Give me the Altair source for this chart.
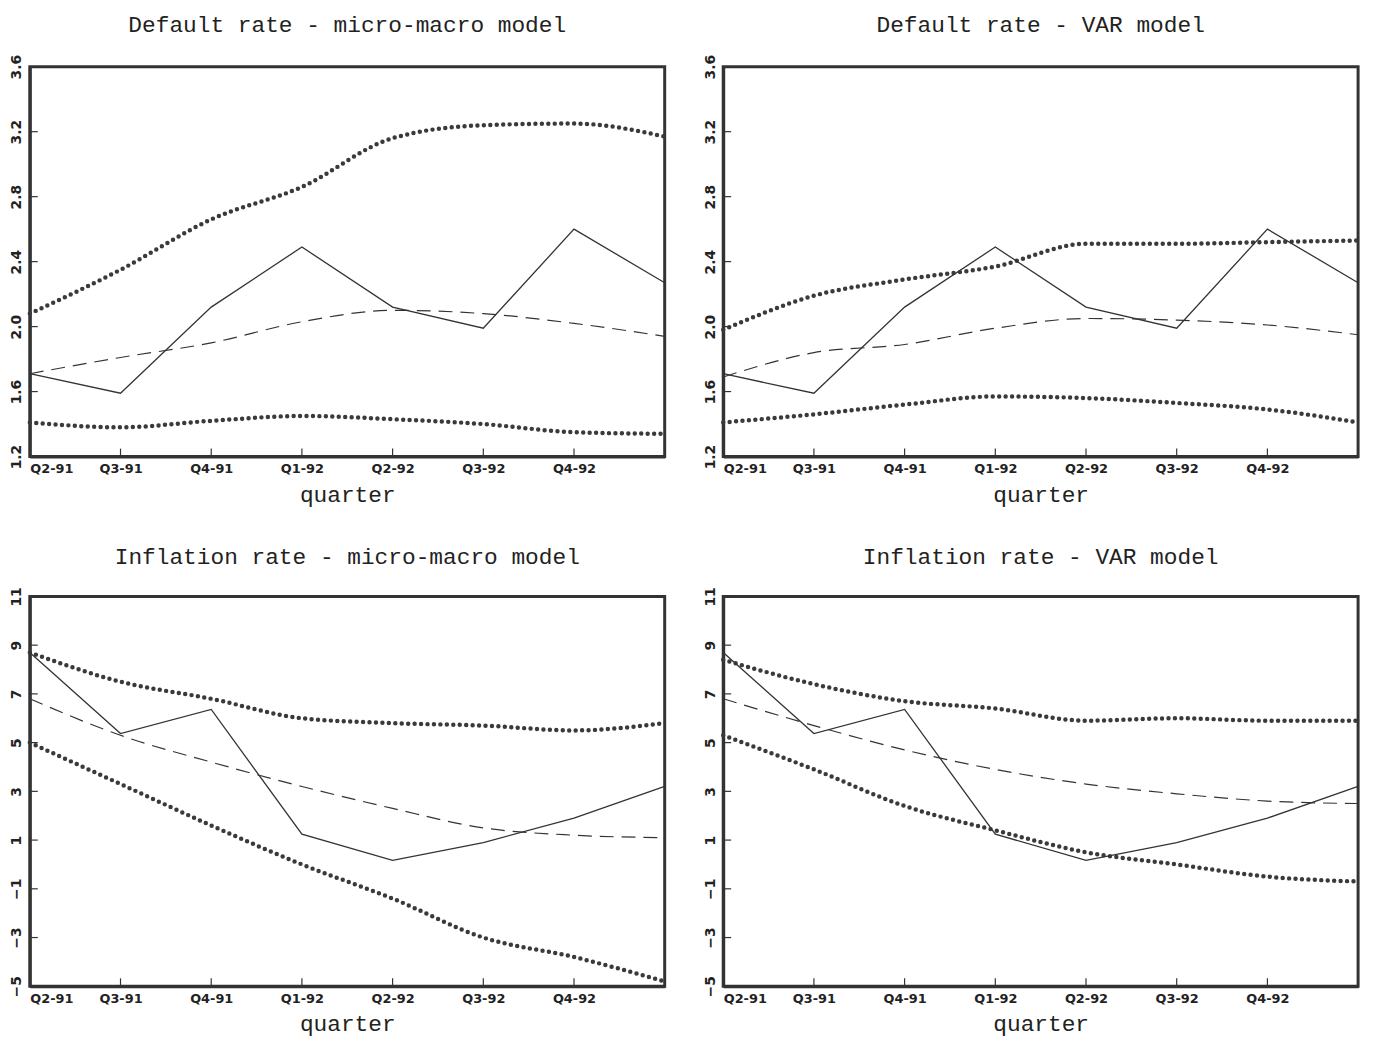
import altair as alt
import pandas as pd

quarters = ["Q2-91", "Q3-91", "Q4-91", "Q1-92", "Q2-92", "Q3-92", "Q4-92", ""]

default_actual = [1.71, 1.59, 2.12, 2.49, 2.12, 1.99, 2.60, 2.27]
default_mm_fc = [1.71, 1.81, 1.90, 2.03, 2.10, 2.08, 2.02, 1.94]
default_mm_hi = [2.08, 2.35, 2.66, 2.86, 3.16, 3.24, 3.25, 3.17]
default_mm_lo = [1.41, 1.38, 1.42, 1.45, 1.43, 1.40, 1.35, 1.34]
default_var_fc = [1.69, 1.84, 1.89, 1.99, 2.05, 2.04, 2.01, 1.95]
default_var_hi = [1.98, 2.19, 2.29, 2.37, 2.51, 2.51, 2.52, 2.53]
default_var_lo = [1.41, 1.46, 1.52, 1.57, 1.56, 1.53, 1.49, 1.41]

infl_actual = [8.7, 5.37, 6.36, 1.24, 0.17, 0.9, 1.9, 3.2]
infl_mm_fc = [6.8, 5.3, 4.2, 3.2, 2.3, 1.5, 1.2, 1.1]
infl_mm_hi = [8.7, 7.5, 6.8, 6.0, 5.8, 5.7, 5.5, 5.8]
infl_mm_lo = [5.0, 3.3, 1.6, 0.0, -1.4, -3.0, -3.8, -4.8]
infl_var_fc = [6.8, 5.7, 4.7, 3.9, 3.3, 2.9, 2.6, 2.5]
infl_var_hi = [8.4, 7.4, 6.7, 6.4, 5.9, 6.0, 5.9, 5.9]
infl_var_lo = [5.3, 3.9, 2.4, 1.4, 0.5, 0.0, -0.5, -0.7]

FONT = "Liberation Mono"
W, H = 640, 393
label_expr = "[" + ",".join(f"'{q}'" for q in quarters) + "][datum.value]"


def panel(title, actual, fc, hi, lo, domain, step):
    rows = []
    for name, vals in [("actual", actual), ("fc", fc), ("hi", hi), ("lo", lo)]:
        for i, v in enumerate(vals):
            rows.append({"series": name, "i": i, "v": v})
    df = pd.DataFrame(rows)
    ticks = []
    t = domain[0]
    while t <= domain[1] + 1e-9:
        ticks.append(round(t, 2))
        t += step
    base = alt.Chart(df).encode(
        x=alt.X("i:Q", scale=alt.Scale(domain=[0, 7], nice=False),
                axis=alt.Axis(values=list(range(8)), labelExpr=label_expr, title="quarter",
                              grid=False, ticks=False, labelFlush=True,
                              labelFont="DejaVu Sans", labelFontWeight="bold", labelFontSize=13,
                              titleFont=FONT, titleFontSize=23, titleFontWeight="normal",
                              titlePadding=8, domainWidth=3, domainColor="#333",
                              labelColor="#222", titleColor="#222", labelPadding=6)),
        y=alt.Y("v:Q", scale=alt.Scale(domain=domain, nice=False, zero=False),
                axis=alt.Axis(values=ticks, format=".1f" if step < 1 else "d", title=None,
                              grid=False, ticks=False,
                              labelAngle=270, labelAlign="center", labelBaseline="bottom",
                              labelFont="DejaVu Sans", labelFontWeight="bold", labelFontSize=14,
                              domainWidth=3, domainColor="#333",
                              labelColor="#222", labelPadding=6)),
    )
    # inside tick marks along the bottom and left edges
    xt = alt.Chart(pd.DataFrame({"i": list(range(8))})).mark_rule(
        color="#333", strokeWidth=1.2).encode(
        x="i:Q", y=alt.value(H), y2=alt.value(H - 8))
    yt = alt.Chart(pd.DataFrame({"v": ticks})).mark_rule(
        color="#333", strokeWidth=1.2).encode(
        y="v:Q", x=alt.value(0), x2=alt.value(8))
    solid = base.transform_filter("datum.series == 'actual'").mark_line(
        color="#333", strokeWidth=1.3)
    dashed = base.transform_filter("datum.series == 'fc'").mark_line(
        color="#333", strokeWidth=1.2, strokeDash=[14, 8], interpolate="monotone")
    dots = base.transform_filter("datum.series == 'hi' || datum.series == 'lo'").mark_line(
        color="#3a3a3a", strokeWidth=4.5, strokeDash=[0, 6.5], strokeCap="round",
        interpolate="monotone").encode(detail="series:N")
    return (dots + dashed + solid + xt + yt).properties(
        width=W, height=H,
        title=alt.TitleParams(title, font=FONT, fontSize=23, fontWeight="normal",
                              color="#222", offset=18))


top = alt.hconcat(
    panel("Default rate - micro-macro model", default_actual, default_mm_fc, default_mm_hi,
          default_mm_lo, [1.2, 3.6], 0.4),
    panel("Default rate - VAR model", default_actual, default_var_fc, default_var_hi,
          default_var_lo, [1.2, 3.6], 0.4),
    spacing=26)
bottom = alt.hconcat(
    panel("Inflation rate - micro-macro model", infl_actual, infl_mm_fc, infl_mm_hi,
          infl_mm_lo, [-5, 11], 2),
    panel("Inflation rate - VAR model", infl_actual, infl_var_fc, infl_var_hi,
          infl_var_lo, [-5, 11], 2),
    spacing=26)

chart = alt.vconcat(top, bottom, spacing=36).configure(
    background="white", padding=0).configure_view(stroke="#333", strokeWidth=3)

chart.save("out.html", embed_options={"renderer": "svg", "actions": False})
